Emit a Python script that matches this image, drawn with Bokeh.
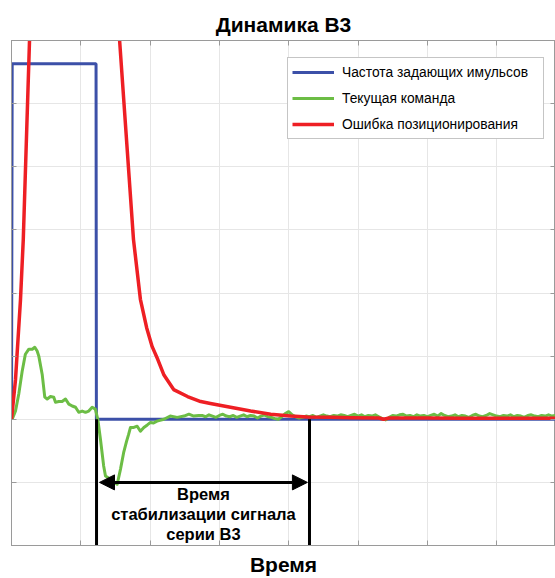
from bokeh.plotting import figure
from bokeh.models import Range1d, LinearAxis, FixedTicker, Legend, LegendItem, Arrow, NormalHead, Grid
from bokeh.core.properties import value
from bokeh.embed import file_html
from bokeh.resources import INLINE

# ---------------- data ----------------
X_TICKS = [0, 1, 2, 3, 4, 5, 6, 7, 8]
Y_TICKS = [-2, -1, 0, 1, 2, 3, 4, 5, 6]

pulse_x = [0.0, 0.01, 1.22, 1.225, 7.9]
pulse_y = [0.0, 5.63, 5.63, 0.0, 0.0]

cmd_x = [0.01, 0.058, 0.105, 0.154, 0.20, 0.25, 0.30, 0.336, 0.37, 0.394, 0.443, 0.48, 0.515, 0.563,
         0.61, 0.635, 0.683, 0.73, 0.78, 0.827, 0.876, 0.924, 0.97, 1.02, 1.068, 1.115, 1.164, 1.21,
         1.245, 1.284, 1.33, 1.356, 1.43, 1.525, 1.573, 1.62, 1.66, 1.69, 1.717, 1.765, 1.814, 1.86,
         1.91, 1.96, 2.006, 2.05, 2.10, 2.20, 2.29, 2.39, 2.49, 2.56, 2.63, 2.70,
         2.75, 2.80, 2.85, 2.90, 2.95, 3.00, 3.05, 3.10, 3.15, 3.20,
         3.25, 3.30, 3.35, 3.40, 3.45, 3.50, 3.55, 3.60, 3.65, 3.70,
         3.75, 3.80, 3.85, 3.90, 3.95, 4.00, 4.05, 4.10, 4.15, 4.20,
         4.25, 4.30, 4.35, 4.40, 4.45, 4.50, 4.55, 4.60, 4.65, 4.70,
         4.75, 4.80, 4.85, 4.90, 4.95, 5.00, 5.05, 5.10, 5.15, 5.20,
         5.25, 5.30, 5.35, 5.40, 5.45, 5.50, 5.55, 5.60, 5.65, 5.70,
         5.75, 5.80, 5.85, 5.90, 5.95, 6.00, 6.05, 6.10, 6.15, 6.20,
         6.25, 6.30, 6.35, 6.40, 6.45, 6.50, 6.55, 6.60, 6.65, 6.70,
         6.75, 6.80, 6.85, 6.90, 6.95, 7.00, 7.05, 7.10, 7.15, 7.20,
         7.25, 7.30, 7.35, 7.40, 7.45, 7.50, 7.55, 7.60, 7.65, 7.70,
         7.75, 7.80, 7.85, 7.90]
cmd_y = [0.0, 0.13, 0.40, 0.76, 1.03, 1.11, 1.11, 1.14, 1.08, 1.0, 0.71, 0.35, 0.32, 0.36,
         0.35, 0.27, 0.28, 0.28, 0.32, 0.24, 0.21, 0.19, 0.11, 0.13, 0.11, 0.13, 0.19, 0.16,
         0.0, -0.32, -0.74, -0.90, -0.95, -1.03, -0.79, -0.52, -0.35, -0.24, -0.13, -0.13, -0.11, -0.19,
         -0.13, -0.09, -0.05, -0.06, -0.03, 0.0, 0.05, 0.03, 0.05, 0.08, 0.05, 0.06,
         0.06, 0.04, 0.07, 0.05, 0.03, 0.06, 0.08, 0.05, 0.04, 0.06,
         0.03, 0.05, 0.07, 0.04, 0.06, 0.05, 0.02, 0.05, 0.07, 0.04,
         0.03, 0.01, 0.00, 0.04, 0.09, 0.12, 0.07, 0.04, 0.02, 0.03,
         0.05, 0.04, 0.06, 0.03, 0.05, 0.07, 0.05, 0.04, 0.06, 0.05,
         0.07, 0.06, 0.04, 0.06, 0.08, 0.05, 0.07, 0.04, 0.06, 0.05,
         0.07, 0.04, 0.01, -0.01, 0.03, 0.06, 0.05, 0.07, 0.08, 0.05,
         0.06, 0.04, 0.07, 0.05, 0.06, 0.04, 0.06, 0.08, 0.05, 0.09,
         0.06, 0.04, 0.05, 0.07, 0.04, 0.06, 0.05, 0.03, 0.06, 0.08,
         0.05, 0.04, 0.06, 0.09, 0.07, 0.05, 0.04, 0.06, 0.05, 0.07,
         0.04, 0.06, 0.05, 0.03, 0.06, 0.07, 0.05, 0.04, 0.06, 0.05,
         0.07, 0.05, 0.06, 0.05]

err_x = [0.0, 0.058, 0.13, 0.17, 0.26, 0.4, 0.7, 1.1, 1.4, 1.56, 1.76, 1.86, 1.95, 2.03, 2.11, 2.2,
         2.34, 2.54, 2.73, 2.87, 3.16, 3.45, 3.74, 4.03, 4.27, 4.6, 4.9, 5.3, 5.37, 5.45, 6.0, 6.5, 7.0, 7.9]
err_y = [0.0, 0.63, 1.9, 2.85, 6.0, 9.5, 12.0, 11.0, 8.5, 6.0, 2.85, 1.9, 1.45, 1.15, 0.95, 0.7,
         0.47, 0.36, 0.28, 0.25, 0.19, 0.13, 0.08, 0.05, 0.035, 0.03, 0.025, 0.02, 0.0, 0.02, 0.02, 0.015, 0.015, 0.015]

marker_x = [1.227, 4.30]
marker_top = [0, 0]
marker_bottom = [-2, -2]
arrow_x = [1.27, 4.27]
arrow_y = -1.0
note_x = [2.77]
note_y = [-1.50]
note_text = ["Время\nстабилизации сигнала\nсерии В3"]

labels = ["Частота задающих имульсов", "Текущая команда", "Ошибка позиционирования"]

BLUE = "#3c50a8"
GREEN = "#6cbd45"
RED = "#ee1f24"
FRAME = "#9a9a9a"
FONT = "Liberation Sans"

p = figure(width=555, height=578, x_range=Range1d(0, 544 / 69.3), y_range=Range1d(-2, 6),
           output_backend="svg", toolbar_location=None,
           x_axis_location=None, y_axis_location=None,
           min_border_left=11, min_border_right=0, min_border_top=40, min_border_bottom=32)
p.outline_line_color = FRAME
p.outline_line_width = 1
p.background_fill_color = "white"

p.title.text = "Динамика В3"
p.title.text_font = FONT
p.title.text_font_size = "21px"
p.title.text_font_style = "bold"
p.title.text_color = "black"
p.title.align = "center"
p.title.offset = 5

p.add_layout(Grid(dimension=0, ticker=FixedTicker(ticks=X_TICKS), grid_line_color="#e6e6e6"))
p.add_layout(Grid(dimension=1, ticker=FixedTicker(ticks=Y_TICKS), grid_line_color="#e6e6e6"))

def mk_axis(ticks, label=None):
    ax = LinearAxis(ticker=FixedTicker(ticks=ticks), major_tick_in=5, major_tick_out=0,
                    minor_tick_line_color=None,
                    major_label_overrides={t: "" for t in ticks},
                    major_label_standoff=0, axis_line_color=FRAME, major_tick_line_color=FRAME)
    if label:
        ax.axis_label = label
        ax.axis_label_text_font = FONT
        ax.axis_label_text_font_size = "21px"
        ax.axis_label_text_font_style = "bold"
        ax.axis_label_text_color = "black"
        ax.axis_label_standoff = 7
    return ax

p.add_layout(mk_axis(X_TICKS, "Время"), "below")
p.add_layout(mk_axis(X_TICKS), "above")
p.add_layout(mk_axis(Y_TICKS), "left")
p.add_layout(mk_axis(Y_TICKS), "right")

r_blue = p.line(pulse_x, pulse_y, line_color=BLUE, line_width=3)
r_green = p.line(cmd_x, cmd_y, line_color=GREEN, line_width=3, line_join="round")
r_red = p.line(err_x, err_y, line_color=RED, line_width=3.5, line_join="round")

p.segment(x0=marker_x, y0=marker_top, x1=marker_x, y1=marker_bottom, line_color="black", line_width=3)
p.add_layout(Arrow(start=NormalHead(size=15, fill_color="black", line_color="black"),
                   end=NormalHead(size=15, fill_color="black", line_color="black"),
                   x_start=arrow_x[0], y_start=arrow_y, x_end=arrow_x[1], y_end=arrow_y,
                   line_color="black", line_width=3))
p.text(x=note_x, y=note_y, text=note_text, text_align="center", text_baseline="middle",
       text_font=value(FONT), text_font_style="bold", text_font_size="16.5px", text_line_height=1.1,
       text_color="black")

legend = Legend(items=[LegendItem(label=labels[0], renderers=[r_blue]),
                       LegendItem(label=labels[1], renderers=[r_green]),
                       LegendItem(label=labels[2], renderers=[r_red])],
                location=(276, 406), label_text_font=FONT, label_text_font_size="13.8px",
                label_text_color="black",
                glyph_width=42, glyph_height=20, label_height=20, label_width=197, spacing=6, padding=4,
                label_standoff=8, margin=0, border_line_color="#8c8c8c", border_line_width=1,
                background_fill_color="white", background_fill_alpha=1)
p.add_layout(legend)

open("out.html", "w").write(file_html(p, INLINE))
